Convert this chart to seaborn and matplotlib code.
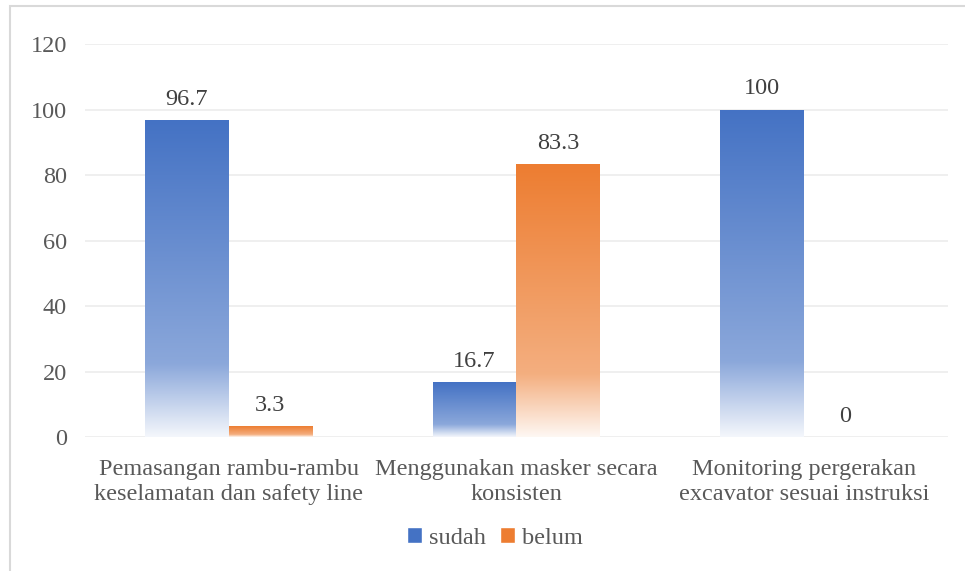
import numpy as np
import pandas as pd
import matplotlib
matplotlib.use("Agg")
import matplotlib.pyplot as plt
import seaborn as sns
from matplotlib.colors import to_rgb
from matplotlib.patches import Rectangle, Patch

categories = ["Pemasangan rambu-rambu\nkeselamatan dan safety line",
              "Menggunakan masker secara\nkonsisten",
              "Monitoring pergerakan\nexcavator sesuai instruksi"]
sudah = [96.7, 16.7, 100]
belum = [3.3, 83.3, 0]
series_names = ["sudah", "belum"]
colors = ["#4472C4", "#ED7D31"]
yticks = [0, 20, 40, 60, 80, 100, 120]

df = pd.DataFrame({
    "kategori": categories * 2,
    "nilai": sudah + belum,
    "seri": [series_names[0]] * 3 + [series_names[1]] * 3,
})

sns.set_theme(style="white")
plt.rcParams["font.family"] = ["Liberation Serif", "DejaVu Serif"]
FS = 17.5

fig = plt.figure(figsize=(9.65, 5.71), dpi=100)
ax = fig.add_axes([0.088, 0.2347, 0.894, 0.688])

sns.barplot(data=df, x="kategori", y="nilai", hue="seri", palette=colors,
            width=0.58, ax=ax, legend=False, saturation=1)

def gradient_img(col):
    c = np.array(to_rgb(col))
    n = 256
    t = np.linspace(0, 1, n)  # 0 top, 1 bottom
    a = np.interp(t, [0, 0.77, 1.0], [1.0, 0.62, 0.06])
    rgb = a[:, None] * c[None, :] + (1 - a[:, None]) * np.ones(3)[None, :]
    return rgb[:, None, :]

n_cat = len(categories)
for i, p in enumerate(ax.patches):
    h = p.get_height()
    if h <= 0:
        p.set_visible(False)
        continue
    col = colors[i // n_cat]
    x0 = p.get_x(); w = p.get_width()
    p.set_facecolor("none"); p.set_edgecolor("none")
    im = ax.imshow(gradient_img(col), extent=[x0, x0 + w, 0, h],
                   aspect="auto", zorder=2, interpolation="bilinear")
    im.set_clip_path(p)

ax.set_xlim(-0.5, 2.5)
ax.set_ylim(0, 120)

# data labels
for s_idx, vals in enumerate([sudah, belum]):
    for c_idx, v in enumerate(vals):
        off = (-0.145 if s_idx == 0 else 0.145)
        ax.text(c_idx + off, v + 3.2, f"{v:g}", ha="center", va="bottom",
                fontsize=FS, color="#404040")

ax.set_yticks(yticks)
ax.yaxis.grid(True, color="#ececec", linewidth=1.2)
ax.set_axisbelow(True)
for s in ax.spines.values():
    s.set_visible(False)
ax.tick_params(axis="y", labelsize=FS, labelcolor="#595959", length=0, pad=13)
ax.tick_params(axis="x", labelsize=FS, labelcolor="#595959", length=0, pad=16)
ax.set_xlabel("")
ax.set_ylabel("")
for lbl in ax.get_xticklabels():
    lbl.set_linespacing(1.25)

handles = [Patch(facecolor=colors[0], label=series_names[0]),
           Patch(facecolor=colors[1], label=series_names[1])]
fig.legend(handles=handles, loc="center", bbox_to_anchor=(0.513, 0.058), ncol=2,
           frameon=False, fontsize=FS, handlelength=0.6, handleheight=0.6,
           handletextpad=0.3, columnspacing=0.6, labelcolor="#595959")

# outer chart border
fig.patches.append(Rectangle((10 / 965, -0.01), 1.0, 1 - 5.5 / 571 + 0.01,
                             transform=fig.transFigure, fill=False,
                             edgecolor="#d9d9d9", linewidth=1.5))

fig.savefig("out.png", dpi=100)
